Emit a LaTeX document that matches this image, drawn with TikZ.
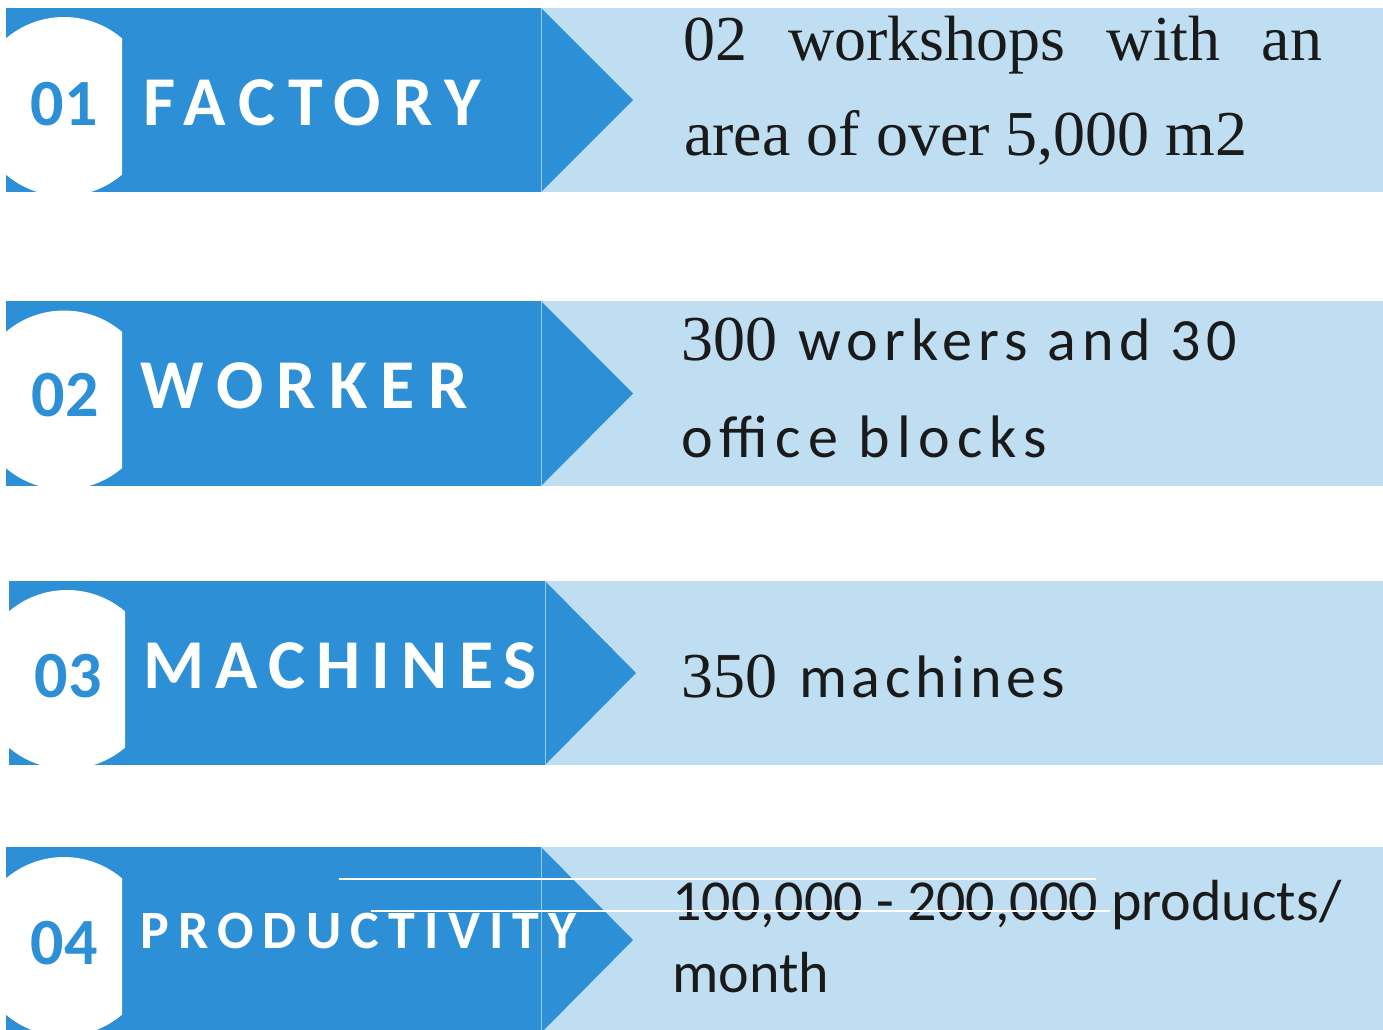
\documentclass[tikz,border=0pt]{standalone}
\usepackage{fontspec}
\setmainfont{Liberation Serif}
\newfontfamily\sansf{Carlito}
\definecolor{dblue}{HTML}{2D8FD5}
\definecolor{lblue}{HTML}{BFDEF1}
\definecolor{ink}{HTML}{1A1A1A}
\newcommand\bandrow[5]{%
  \fill[lblue] (#4,#2) rectangle (1383,#3);
  \fill[dblue] (#1,#2) rectangle (#4,#3);
  \fill[dblue] (#4,#2) -- (#5,{(#2+#3)/2}) -- (#4,#3) -- cycle;
  \draw[lblue!75!dblue, line width=0.8pt] (#4,#2) -- (#4,#3);
  \begin{scope}
    \clip (#1,#2) rectangle (#1+116,#3);
    \fill[white] (#1+58,{(#2+#3)/2+6.5}) circle[radius=89.5];
  \end{scope}
}
\begin{document}
\begin{tikzpicture}[x=1pt,y=-1pt,
  num/.style={font=\sansf\bfseries\fontsize{66}{66}\selectfont, text=dblue, inner sep=0pt, anchor=base},
  ttl/.style={font=\sansf\bfseries\fontsize{70}{70}\selectfont, text=white, inner sep=0pt, anchor=base west},
  ttlsmall/.style={font=\sansf\bfseries\fontsize{54}{54}\selectfont, text=white, inner sep=0pt, anchor=base west},
  serif/.style={font=\fontsize{64}{64}\selectfont, text=ink, inner sep=0pt, anchor=base west},
  sans/.style={font=\sansf\fontsize{60}{60}\selectfont, text=ink, inner sep=0pt, anchor=base west},
  sansb/.style={font=\sansf\fontsize{58}{58}\selectfont, text=ink, inner sep=0pt, anchor=base west},
  rule/.style={draw=white, line width=2pt}]
\useasboundingbox (0,0) rectangle (1383,1029);
\clip (0,0) rectangle (1383,1029);
\fill[white] (0,0) rectangle (1383,1029);
% rows
\bandrow{6}{8}{192}{541}{633}
\bandrow{6}{301}{486}{541}{633}
\bandrow{9}{581}{765}{545}{636}
\bandrow{6}{847}{1033}{541}{633}
% row 1
\node[num] (n1) at (64,125) {01};
\node[ttl] (t1) at (143,125) {\addfontfeatures{LetterSpace=18}FACTORY};
\node[serif] (d1a) at (683,60) {\makebox[639pt][s]{02 workshops with an}};
\node[serif] (d1b) at (684,155) {area of over 5,000 m2};
% row 2
\node[num] (n2) at (65,416) {02};
\node[ttl] (t2) at (140,408) {\addfontfeatures{LetterSpace=19}WORKER};
\node[sans] (d2a) at (681,360) {{\rmfamily\fontsize{64}{64}\selectfont 300}\hspace{21pt}{\addfontfeatures{LetterSpace=10}workers\ and\ 30}};
\node[sans] (d2b) at (681,457) {\addfontfeatures{LetterSpace=12}office\ blocks};
% row 3
\node[num] (n3) at (68,697) {03};
\node[ttl] (t3) at (143,688) {\addfontfeatures{LetterSpace=16}MACHINES};
\node[sans] (d3) at (681,697) {{\rmfamily\fontsize{64}{64}\selectfont 350}\hspace{22pt}{\addfontfeatures{LetterSpace=8}machines}};
% row 4
\node[num] (n4) at (64,964) {04};
\node[ttlsmall] (t4) at (140,948) {\addfontfeatures{LetterSpace=17}PRODUCTIVITY};
\node[sansb] (d4a) at (672,920) {100,000 - 200,000 products/};
\node[sansb] (d4b) at (672,992) {month};
\coordinate (r1a) at (339,879);
\coordinate (r1b) at (1096,879);
\coordinate (r2a) at (371,911);
\coordinate (r2b) at (1110,911);
\draw[rule] (r1a) -- (r1b);
\draw[rule] (r2a) -- (r2b);
\end{tikzpicture}
\end{document}
